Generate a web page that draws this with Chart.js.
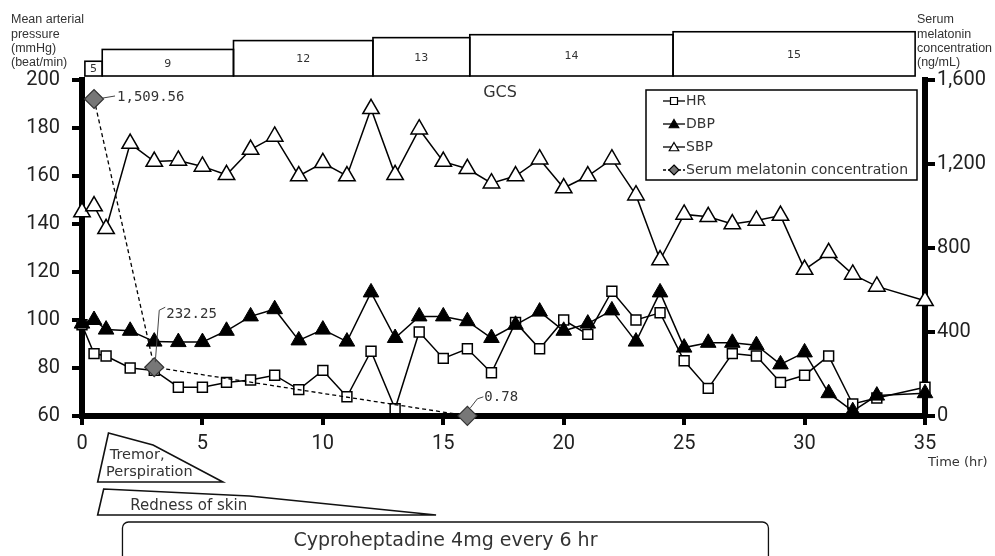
<!DOCTYPE html>
<html><head><meta charset="utf-8">
<script src="https://cdn.jsdelivr.net/npm/chart.js@4.4.1/dist/chart.umd.min.js"></script>
<style>html,body{margin:0;padding:0;background:#fff;overflow:hidden}#wrap{width:995px;height:556px;position:relative}</style>
</head><body><div id="wrap"><canvas id="c" width="995" height="556"></canvas></div>
<script>
const hours = [0,0.5,1,2,3,4,5,6,7,8,9,10,11,12,13,14,15,16,17,18,19,20,21,22,23,24,25,26,27,28,29,30,31,32,33,35];
const hr  = [98,86,85,80,79,72,72,74,75,77,71,79,68,87,63,95,84,88,78,99,88,100,94,112,100,103,83,71.5,86,85,74,77,85,65,67.5,72];
const dbp = [98.5,100,96,95.5,91,90.8,90.8,95.5,101.5,104.5,91.5,96,91,111.5,92.5,101.5,101.5,99.5,92.5,98,103.5,95.5,98.5,104,91,111.5,88.5,90.5,90.5,89.5,81.5,86.5,69.5,62,68.5,69.5];
const sbp = [145,147.5,138,173.5,166,166.5,164,160.5,171,176.5,160,165.5,160,188,160.5,179.5,166,163,157,160,167,155,160,167,152,125,144,143,140,141.5,143.5,121,128,119,114,108];
const melatoninHours = [0.5,3,16];
const melatonin = [1509.56,232.25,0.78];
const melatoninText = ['1,509.56','232.25','0.78'];
const gcsScores = [5,9,12,13,14,15];
const gcsStart = [0.12,0.84,6.29,12.08,16.1,24.54];
const gcsEnd   = [0.84,6.29,12.08,16.1,24.54,34.59];
const seriesNames = ['HR','DBP','SBP','Serum melatonin concentration'];

const TICK_FONT = {family:"Roboto, 'Liberation Sans', sans-serif", size:20};
const TXT = "'DejaVu Sans', 'Liberation Sans', sans-serif";
const TXT2 = "'Liberation Sans', Arial, sans-serif";

function marker(ctx, style, x, y, r, fill, lw){
  ctx.save();
  ctx.beginPath();
  if(style==='rect'){ const s=r*Math.SQRT1_2; ctx.rect(x-s,y-s,2*s,2*s); }
  else if(style==='triangle'){
    let a=0; ctx.moveTo(x+Math.sin(a)*r,y-Math.cos(a)*r);
    a+=2*Math.PI/3; ctx.lineTo(x+Math.sin(a)*r,y-Math.cos(a)*r);
    a+=2*Math.PI/3; ctx.lineTo(x+Math.sin(a)*r,y-Math.cos(a)*r);
    ctx.closePath();
  } else if(style==='rectRot'){
    ctx.moveTo(x,y-r); ctx.lineTo(x+r,y); ctx.lineTo(x,y+r); ctx.lineTo(x-r,y); ctx.closePath();
  }
  ctx.fillStyle=fill; ctx.fill();
  ctx.lineWidth=lw; ctx.strokeStyle='#000'; ctx.stroke();
  ctx.restore();
}

const extras = {
  id:'extras',
  afterDraw(chart){
    const ctx = chart.ctx, xs = chart.scales.x, ys = chart.scales.yR;
    ctx.save();
    // axis titles
    ctx.fillStyle='#333'; ctx.font="12.5px "+TXT2; ctx.textBaseline='middle'; ctx.textAlign='left';
    ['Mean arterial','pressure','(mmHg)','(beat/min)'].forEach((t,i)=>ctx.fillText(t,11,20+i*14.3));
    ['Serum','melatonin','concentration','(ng/mL)'].forEach((t,i)=>ctx.fillText(t,917,20+i*14.3));
    ctx.font="13px "+TXT; ctx.fillText('Time (hr)',928,463);
    // GCS boxes
    ctx.lineWidth=1.6; ctx.strokeStyle='#000';
    gcsScores.forEach((g,i)=>{
      const x0=xs.getPixelForValue(gcsStart[i]), x1=xs.getPixelForValue(gcsEnd[i]);
      const h=g*2.95, yb=76;
      ctx.strokeRect(x0,yb-h,x1-x0,h);
      ctx.fillStyle='#333'; ctx.font="11px "+TXT; ctx.textAlign='center';
      ctx.fillText(String(g),(x0+x1)/2,yb-h/2+1);
    });
    ctx.font="16px "+TXT; ctx.textAlign='center'; ctx.fillStyle='#333';
    ctx.fillText('GCS',500,93);
    // melatonin labels
    const offs=[{l:[[9,-1],[21,-3]],t:[23,-2]},{l:[[1,-5],[5,-57],[11,-60]],t:[12,-53]},{l:[[3,-8],[10,-17],[16,-19]],t:[17,-18]}];
    ctx.font="14px 'DejaVu Sans Mono', monospace"; ctx.textAlign='left'; ctx.strokeStyle='#444'; ctx.lineWidth=1;
    melatonin.forEach((v,i)=>{
      const px=xs.getPixelForValue(melatoninHours[i]), py=ys.getPixelForValue(v);
      const o=offs[i];
      ctx.beginPath();
      ctx.moveTo(px+o.l[0][0],py+o.l[0][1]);
      for(let k=1;k<o.l.length;k++) ctx.lineTo(px+o.l[k][0],py+o.l[k][1]);
      ctx.stroke();
      ctx.fillStyle='#333'; ctx.fillText(melatoninText[i],px+o.t[0],py+o.t[1]);
    });
    // legend
    ctx.lineWidth=1.5; ctx.strokeStyle='#000';
    ctx.strokeRect(646,90,271,90);
    const styles=[['rect','#fff',3.5*Math.SQRT2,false],['triangle','#000',5.5,false],['triangle','#fff',5.5,false],['rectRot','#777',5,true]];
    seriesNames.forEach((n,i)=>{
      const y=101+i*23;
      ctx.save(); ctx.lineWidth=1.3; ctx.strokeStyle='#000';
      if(styles[i][3]) ctx.setLineDash([3,2]);
      ctx.beginPath(); ctx.moveTo(663,y); ctx.lineTo(685,y); ctx.stroke(); ctx.restore();
      marker(ctx,styles[i][0],674,y+(styles[i][0]==='triangle'?1:0),styles[i][2],styles[i][1],1.2);
      ctx.fillStyle='#333'; ctx.font="14px "+TXT; ctx.textAlign='left';
      ctx.fillText(n,686,y);
    });
    // symptom wedges
    ctx.lineWidth=1.6; ctx.strokeStyle='#111';
    const P=(h,y)=>[xs.getPixelForValue(h),y];
    const trem=[P(1.1,433),P(2.95,445),P(5.85,482),P(0.65,482)];
    const red=[P(0.9,489),P(6.95,496),P(14.7,515),P(0.65,515)];
    [trem,red].forEach(poly=>{
      ctx.beginPath(); ctx.moveTo(poly[0][0],poly[0][1]);
      for(let k=1;k<poly.length;k++) ctx.lineTo(poly[k][0],poly[k][1]);
      ctx.closePath(); ctx.stroke();
    });
    ctx.fillStyle='#333'; ctx.font="14.5px "+TXT; ctx.textAlign='left';
    ctx.fillText('Tremor,',xs.getPixelForValue(1.15),455);
    ctx.fillText('Perspiration',xs.getPixelForValue(1.0),472);
    ctx.font="15px "+TXT;
    ctx.fillText('Redness of skin',xs.getPixelForValue(2.0),506);
    // cyproheptadine box
    const bx0=xs.getPixelForValue(1.68), bx1=xs.getPixelForValue(28.5);
    ctx.beginPath(); ctx.roundRect(bx0,522,bx1-bx0,50,6); ctx.lineWidth=1.3; ctx.stroke();
    ctx.font="19px "+TXT; ctx.textAlign='center'; ctx.fillStyle='#333';
    ctx.fillText('Cyproheptadine 4mg every 6 hr',(bx0+bx1)/2,541);
    ctx.restore();
  }
};

const xy=(xsArr,ysArr)=>xsArr.map((x,i)=>({x:x,y:ysArr[i]}));
const gridOpt={display:true,drawOnChartArea:false,drawTicks:true,tickLength:10,lineWidth:4,color:'#000'};
const borderOpt={display:true,width:6,color:'#000'};

new Chart(document.getElementById('c'),{
  type:'line',
  data:{datasets:[
    {label:seriesNames[3],data:xy(melatoninHours,melatonin),yAxisID:'yR',borderColor:'#000',borderWidth:1.3,borderDash:[4,3],
     pointStyle:'rectRot',pointRadius:9.5,pointBackgroundColor:'#777',pointBorderColor:'#333',pointBorderWidth:1.2,order:0,clip:false,tension:0},
    {label:seriesNames[1],data:xy(hours,dbp),yAxisID:'y',borderColor:'#000',borderWidth:1.5,
     pointStyle:'triangle',pointRadius:9,pointBackgroundColor:'#000',pointBorderColor:'#000',pointBorderWidth:1,order:1,clip:false,tension:0},
    {label:seriesNames[0],data:xy(hours,hr),yAxisID:'y',borderColor:'#000',borderWidth:1.5,
     pointStyle:'rect',pointRadius:7,pointBackgroundColor:'#fff',pointBorderColor:'#000',pointBorderWidth:1.5,order:2,clip:false,tension:0},
    {label:seriesNames[2],data:xy(hours,sbp),yAxisID:'y',borderColor:'#000',borderWidth:1.5,
     pointStyle:'triangle',pointRadius:9.5,pointBackgroundColor:'#fff',pointBorderColor:'#000',pointBorderWidth:1.5,order:3,clip:false,tension:0}
  ]},
  options:{
    responsive:false,animation:false,
    layout:{padding:{top:80,left:0,right:0,bottom:0}},
    plugins:{legend:{display:false},tooltip:{enabled:false}},
    scales:{
      x:{type:'linear',min:0,max:35,ticks:{stepSize:5,font:TICK_FONT,color:'#222',padding:7,maxRotation:0},
         grid:Object.assign({},gridOpt,{tickLength:9}),border:borderOpt,afterFit:s=>{s.height=140;}},
      y:{position:'left',min:60,max:200,ticks:{stepSize:20,font:TICK_FONT,color:'#222',padding:12},
         grid:gridOpt,border:borderOpt,afterFit:s=>{s.width=82;}},
      yR:{position:'right',min:0,max:1600,ticks:{stepSize:400,font:TICK_FONT,color:'#222',padding:2,
          callback:v=>v.toLocaleString('en-US')},
         grid:gridOpt,border:borderOpt,afterFit:s=>{s.width=70;}}
    }
  },
  plugins:[extras]
});
</script></body></html>
